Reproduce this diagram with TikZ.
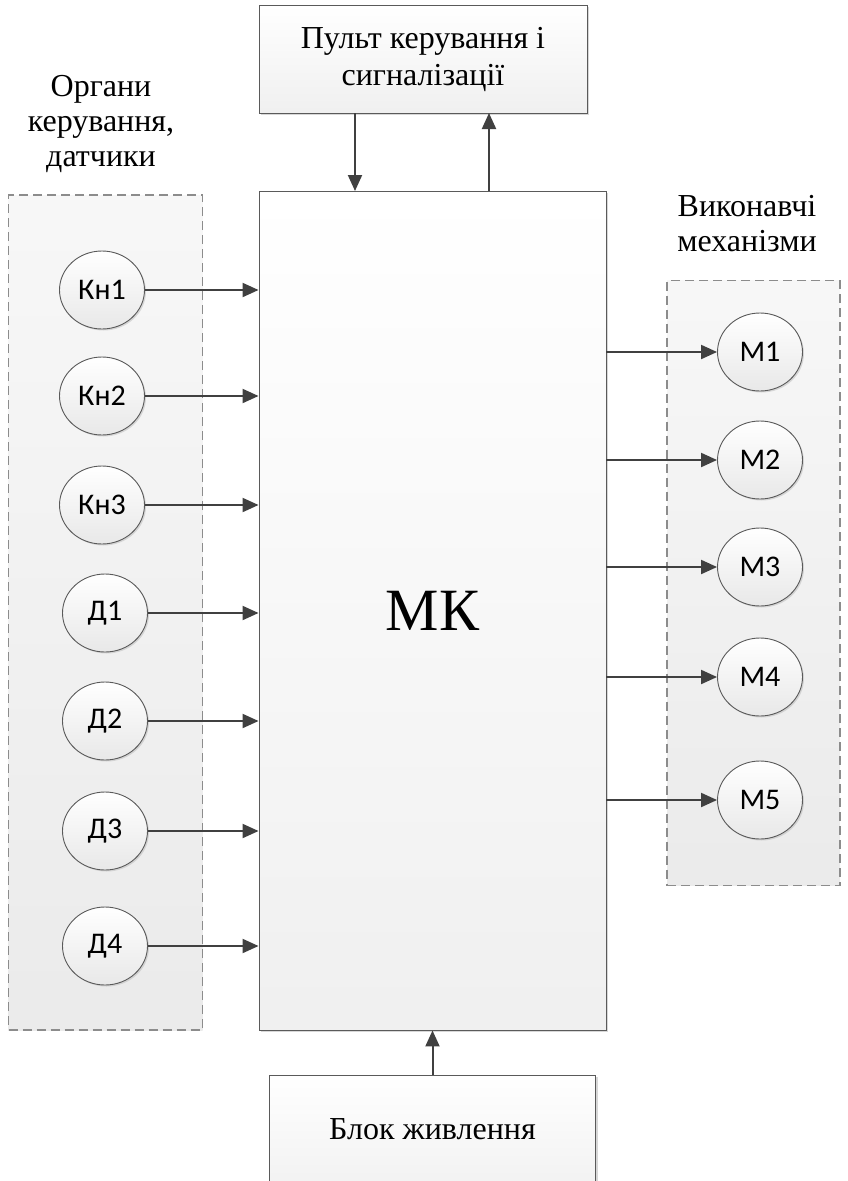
\documentclass[tikz,border=0pt]{standalone}
\usepackage{fontspec}
\setmainfont{Liberation Serif}
\newfontfamily\circfont{Carlito}
\usetikzlibrary{arrows.meta,shadows,shapes.geometric}

\definecolor{linegray}{HTML}{404040}
\definecolor{edgegray}{HTML}{5A5A5A}
\definecolor{dashgray}{HTML}{8C8C8C}

\tikzset{
  blk/.style={draw=edgegray, line width=0.9pt, top color=white, bottom color=black!6,
    drop shadow={shadow xshift=2pt, shadow yshift=-2pt, fill=black!35, opacity=0.45},
    inner sep=0pt, font=\fontsize{32}{37}\selectfont, align=center},
  group/.style={draw=dashgray, dashed, dash pattern=on 9pt off 5pt, line width=1.6pt,
    top color=black!3, bottom color=black!8, inner sep=0pt},
  unit/.style={ellipse, draw=edgegray, line width=0.9pt, top color=white, bottom color=black!9,
    drop shadow={shadow xshift=1.5pt, shadow yshift=-1.5pt, fill=black!30, opacity=0.45},
    minimum width=85pt, minimum height=78pt, inner sep=0pt,
    font=\circfont\fontsize{30}{34}\selectfont},
  link/.style={draw=linegray, line width=2pt, -{Triangle[length=16pt,width=14pt]}},
  caption/.style={align=center, font=\fontsize{32}{35}\selectfont, inner sep=0pt},
}

\begin{document}
\begin{tikzpicture}[x=1pt, y=-1pt]
  \useasboundingbox (0,0) rectangle (847,1181);
  \clip (0,0) rectangle (847,1181);

  % dashed groups
  \node[group, minimum width=194pt, minimum height=835pt] (inputs) at (105.5,612.5) {};
  \node[group, minimum width=173pt, minimum height=605pt] (outputs) at (753.5,583) {};

  % group captions
  \node[caption] (incap) at (101,124) {Органи\\керування,\\датчики};
  \node[caption] (outcap) at (747,224) {Виконавчі\\механізми};

  % main blocks
  \node[blk, minimum width=347pt, minimum height=839pt] (mk) at (432.5,610.5)
    {\fontsize{60}{66}\selectfont МК};
  \node[blk, minimum width=328pt, minimum height=108pt] (panel) at (423,59)
    {Пульт керування і\\сигналізації};
  \node[blk, minimum width=326pt, minimum height=130pt] (power) at (432.5,1140)
    {\raisebox{22pt}{Блок живлення}};

  % control panel links
  \coordinate (pdown) at (355,113);
  \coordinate (mkdown) at (355,191);
  \coordinate (mkup) at (489,191);
  \coordinate (pup) at (489,113);
  \draw[link] (pdown) -- (mkdown);
  \draw[link] (mkup) -- (pup);
  \draw[link] (power.north -| mk.south) -- (mk.south);

  % inputs
  \node[unit] (k1) at (102,290) {Кн1};
  \node[unit] (k2) at (102,396) {Кн2};
  \node[unit] (k3) at (102,505) {Кн3};
  \node[unit] (d1) at (105,613) {Д1};
  \node[unit] (d2) at (105,721) {Д2};
  \node[unit] (d3) at (105,831) {Д3};
  \node[unit] (d4) at (105,946) {Д4};
  \foreach \n in {k1,k2,k3,d1,d2,d3,d4}
    \draw[link] (\n.east) -- (\n.east -| mk.west);

  % outputs
  \node[unit] (m1) at (760,352) {М1};
  \node[unit] (m2) at (760,460) {М2};
  \node[unit] (m3) at (760,567) {М3};
  \node[unit] (m4) at (760,677) {М4};
  \node[unit] (m5) at (760,800) {М5};
  \foreach \n in {m1,m2,m3,m4,m5}
    \draw[link] (\n.west -| mk.east) -- (\n.west);
\end{tikzpicture}
\end{document}
